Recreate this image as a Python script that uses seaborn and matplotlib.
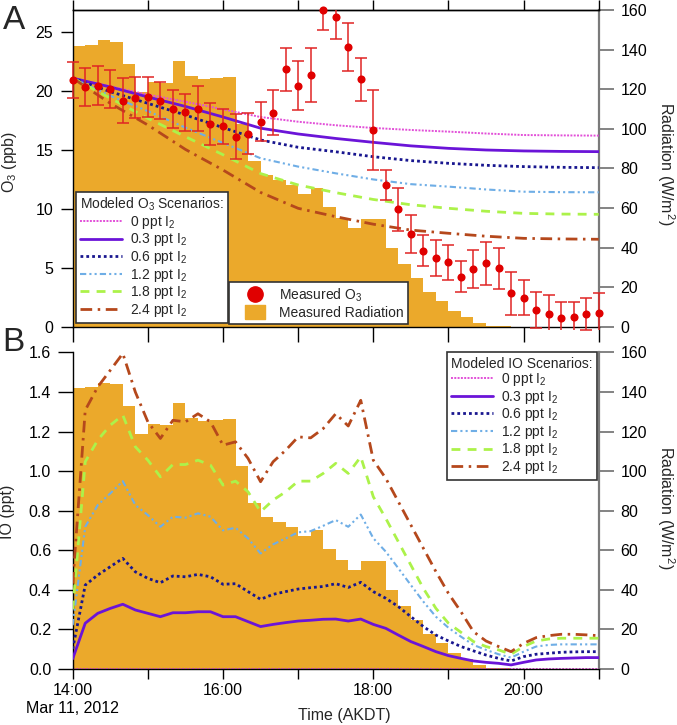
import numpy as np
import pandas as pd
import matplotlib
matplotlib.use("Agg")
import matplotlib.pyplot as plt
import seaborn as sns
from matplotlib.lines import Line2D
from matplotlib.transforms import Bbox, TransformedBbox

# ---------------- data ----------------
# 10-minute time stamps, 14:00 .. 21:00 (Mar 11, 2012, AKDT)
times_10 = pd.date_range("2012-03-11 14:00", "2012-03-11 21:00", freq="10min")
# 30-minute time stamps for the modeled O3 curves
times_30 = pd.date_range("2012-03-11 14:00", "2012-03-11 21:00", freq="30min")

# measured radiation (W/m2), 10-min bins starting 14:00 .. 20:50
radiation = [141.9, 142.6, 144.8, 143.9, 132.9, 118.6,
             123.6, 123.3, 134.6, 127.0, 125.3, 125.8,
             126.2, 102.5, 84.0, 76.8, 74.1, 71.7,
             67.3, 70.0, 60.6, 55.1, 50.1, 54.3,
             54.3, 39.9, 31.5, 24.7, 17.6, 12.9,
             7.8, 4.8, 1.9, 0.5, 0.2, 0.0,
             0.0, 0.0, 0.0, 0.0, 0.0, 0.0]

# measured O3 (ppb) and its uncertainty, 14:00 .. 21:00 every 10 min
o3_measured = [20.95, 20.33, 20.47, 20.16, 19.20, 19.45,
               19.53, 19.20, 18.49, 18.20, 18.52, 17.19,
               17.00, 16.14, 16.39, 17.41, 18.18, 21.86,
               20.47, 21.38, 26.90, 26.27, 23.78, 21.00,
               16.70, 12.03, 9.96, 7.87, 6.45, 5.80,
               5.46, 4.25, 4.87, 5.38, 4.95, 2.83,
               2.46, 1.42, 1.08, 0.71, 0.79, 1.05,
               1.19]
o3_error = [1.56, 1.63, 1.63, 1.63, 1.91, 1.74,
            1.70, 1.54, 1.60, 1.58, 1.90, 1.77,
            1.47, 1.90, 1.74, 1.67, 1.88, 1.83,
            2.09, 2.32, 1.70, 1.84, 2.04, 1.80,
            3.37, 1.29, 1.80, 1.63, 1.30, 1.53,
            1.49, 1.34, 1.60, 1.80, 1.74, 1.84,
            1.50, 1.54, 1.58, 1.42, 1.33, 1.37,
            1.67]

scenarios = ["0 ppt", "0.3 ppt", "0.6 ppt", "1.2 ppt", "1.8 ppt", "2.4 ppt"]

# modeled O3 (ppb), every 30 min 14:00 .. 21:00
o3_0p0 = [21.1, 20.4, 19.7, 19.1, 18.45, 17.8, 17.4, 17.1, 16.87, 16.7, 16.56, 16.4, 16.27, 16.24, 16.22]
o3_0p3 = [21.1, 20.35, 19.5, 18.7, 17.8, 16.85, 16.36, 15.98, 15.65, 15.35, 15.14, 15.0, 14.92, 14.88, 14.86]
o3_0p6 = [21.1, 19.95, 18.96, 17.97, 16.9, 15.85, 15.23, 14.85, 14.43, 14.1, 13.87, 13.7, 13.59, 13.53, 13.5]
o3_1p2 = [21.1, 19.6, 18.3, 16.9, 15.6, 14.3, 13.59, 13.02, 12.5, 12.1, 11.89, 11.65, 11.46, 11.42, 11.41]
o3_1p8 = [21.1, 19.4, 17.69, 16.13, 14.6, 13.0, 12.03, 11.38, 10.8, 10.35, 10.05, 9.8, 9.62, 9.56, 9.54]
o3_2p4 = [21.1, 18.96, 17.12, 15.05, 13.3, 11.4, 10.05, 9.34, 8.7, 8.2, 7.93, 7.68, 7.5, 7.45, 7.42]

# modeled IO (ppt), every 10 min 14:00 .. 21:00
io_0p0 = [0.0] * 43
io_0p3 = [0.05, 0.23, 0.28, 0.305, 0.326, 0.297,
          0.28, 0.263, 0.283, 0.283, 0.288, 0.288,
          0.263, 0.263, 0.238, 0.213, 0.224, 0.233,
          0.241, 0.245, 0.25, 0.251, 0.241, 0.251,
          0.224, 0.204, 0.17, 0.137, 0.112, 0.086,
          0.066, 0.052, 0.039, 0.032, 0.027, 0.019,
          0.032, 0.044, 0.049, 0.052, 0.054, 0.056,
          0.056]
io_0p6 = [0.10, 0.423, 0.474, 0.516, 0.558, 0.49,
          0.457, 0.435, 0.469, 0.465, 0.477, 0.465,
          0.427, 0.43, 0.39, 0.351, 0.376, 0.39,
          0.403, 0.41, 0.416, 0.43, 0.411, 0.437,
          0.39, 0.356, 0.314, 0.263, 0.213, 0.17,
          0.14, 0.112, 0.09, 0.069, 0.052, 0.039,
          0.061, 0.073, 0.078, 0.083, 0.085, 0.086,
          0.086]
io_1p2 = [0.22, 0.718, 0.828, 0.887, 0.949, 0.828,
          0.777, 0.718, 0.769, 0.764, 0.786, 0.769,
          0.70, 0.713, 0.659, 0.583, 0.629, 0.659,
          0.69, 0.696, 0.723, 0.752, 0.718, 0.78,
          0.66, 0.592, 0.508, 0.423, 0.339, 0.263,
          0.207, 0.162, 0.12, 0.095, 0.073, 0.056,
          0.086, 0.112, 0.12, 0.123, 0.123, 0.123,
          0.123]
io_1p8 = [0.30, 1.047, 1.157, 1.232, 1.283, 1.123,
          1.055, 0.971, 1.033, 1.033, 1.055, 1.03,
          0.929, 0.949, 0.895, 0.794, 0.853, 0.895,
          0.949, 0.949, 0.988, 1.039, 0.988, 1.072,
          0.87, 0.76, 0.642, 0.524, 0.406, 0.305,
          0.23, 0.184, 0.137, 0.112, 0.095, 0.073,
          0.112, 0.14, 0.15, 0.154, 0.154, 0.154,
          0.154]
io_2p4 = [0.43, 1.308, 1.426, 1.51, 1.595, 1.40,
          1.249, 1.165, 1.257, 1.249, 1.29, 1.249,
          1.131, 1.148, 1.064, 0.946, 1.047, 1.105,
          1.173, 1.168, 1.215, 1.29, 1.228, 1.358,
          1.055, 0.963, 0.845, 0.727, 0.609, 0.491,
          0.381, 0.288, 0.187, 0.14, 0.112, 0.086,
          0.128, 0.157, 0.167, 0.174, 0.174, 0.171,
          0.167]

x_tick_labels = ["14:00\nMar 11, 2012", "", "16:00", "", "18:00", "", "20:00", ""]

# ---------------- styles ----------------
ORANGE = "#EBA92B"
RED = "#E00000"
RED_EB = "#E02424"
colors = ["#E24FD8", "#6B14D8", "#18168F", "#6FAEE6", "#ACF24A", "#B5481C"]
widths = [1.4, 2.0, 2.0, 1.5, 2.0, 2.0]
styles = [(0, (1, 0.7)), "-", (0, (1, 1.1)), (0, (3, 1.5, 1, 1.5, 1, 1.5)),
          (0, (3.2, 2.6)), (0, (4.2, 2.0, 0.9, 2.0))]
TICK_FS = 11.5
LABEL_FS = 11.5
LEG_FS = 10

sns.set_theme(style="ticks")
plt.rcParams["font.family"] = ["Liberation Sans", "DejaVu Sans"]
plt.rcParams["mathtext.default"] = "regular"
plt.rcParams["axes.linewidth"] = 1.0
plt.rcParams["axes.edgecolor"] = "black"
plt.rcParams["xtick.color"] = "black"
plt.rcParams["ytick.color"] = "black"

hours_10 = np.asarray(times_10.hour + times_10.minute / 60.0, dtype=float)
hours_30 = np.asarray(times_30.hour + times_30.minute / 60.0, dtype=float)
rad_df = pd.DataFrame({"t": (hours_10[:-1] + hours_10[1:]) / 2,
                       "rad": radiation})

fig = plt.figure(figsize=(6.77, 7.25), dpi=100)

o3_models = [o3_0p0, o3_0p3, o3_0p6, o3_1p2, o3_1p8, o3_2p4]
io_models = [io_0p0, io_0p3, io_0p6, io_1p2, io_1p8, io_2p4]
i2_labels = [f"{s} I$_2$" for s in scenarios]


def draw_radiation(axr):
    sns.histplot(data=rad_df, x="t", weights="rad", binwidth=1 / 6,
                 binrange=(14, 21), element="step", fill=True, color=ORANGE,
                 alpha=1, linewidth=0, ax=axr)


def setup_right(axr, label, ycenter):
    axr.set_xlim(14, 21)
    axr.set_ylim(0, 160)
    axr.set_yticks(range(0, 161, 20))
    axr.tick_params(axis="y", length=10.5, width=1.2, color="#6e6e6e",
                    pad=5, labelsize=TICK_FS, labelcolor="black")
    for s in ["left", "top", "bottom"]:
        axr.spines[s].set_visible(False)
    axr.spines["right"].set_color("#7a7a7a")
    axr.spines["right"].set_linewidth(1.6)
    axr.set_ylabel(label, fontsize=LABEL_FS, rotation=270, va="bottom")
    axr.yaxis.set_label_coords(1.107, ycenter)
    axr.set_xlabel("")


def model_legend(ax, title, loc, anchor):
    handles = [Line2D([0], [0], color=c, lw=w, linestyle=ls)
               for c, w, ls in zip(colors, widths, styles)]
    leg = ax.legend(handles, i2_labels, title=title, loc=loc,
                    bbox_to_anchor=anchor, borderaxespad=0, fontsize=LEG_FS,
                    title_fontsize=LEG_FS, frameon=True, fancybox=False,
                    edgecolor="#333333", framealpha=1, handlelength=3.0,
                    handletextpad=0.6, labelspacing=0.04, borderpad=0.3,
                    alignment="left")
    leg.get_frame().set_linewidth(1.2)
    return leg


# ================= Panel A =================
axA = fig.add_axes([0.1074, 0.5494, 0.7770, 0.4364])
axAr = axA.twinx()
axA.set_zorder(axAr.get_zorder() + 1)
axA.patch.set_visible(False)

draw_radiation(axAr)

for vals, c, w, ls in zip(o3_models, colors, widths, styles):
    sns.lineplot(x=hours_30, y=vals, color=c, linewidth=w, linestyle=ls,
                 ax=axA, legend=False, zorder=3)

eb = axA.errorbar(hours_10, o3_measured, yerr=o3_error, fmt="none",
                  ecolor=RED_EB, elinewidth=1.1, capsize=4.5, capthick=1.1,
                  zorder=4)
clipbb = TransformedBbox(Bbox([[-0.05, -0.01], [1.05, 1.0]]), axA.transAxes)
for art in list(eb[1]) + list(eb[2]):
    art.set_clip_path(None)
    art.set_clip_box(clipbb)

sns.scatterplot(x=hours_10, y=o3_measured, color=RED, s=34, edgecolor=RED,
                linewidth=0, ax=axA, zorder=5, clip_on=False, legend=False)

axA.set_xlim(14, 21)
axA.set_ylim(0, 26.86)
axA.set_yticks([0, 5, 10, 15, 20, 25])
axA.set_xticks(range(14, 22))
axA.tick_params(axis="x", labelbottom=False, length=11, width=1, direction="out")
axA.tick_params(axis="y", length=9, width=1, pad=5, labelsize=TICK_FS)
axA.spines["right"].set_visible(False)
axA.spines["top"].set_visible(True)
secA = axA.secondary_xaxis("top")
secA.set_xticks(range(14, 22), labels=[""] * 8)
secA.tick_params(length=7, width=1)
axA.set_ylabel("O$_3$ (ppb)", fontsize=LABEL_FS)
axA.yaxis.set_label_coords(-0.103, 0.52)
axA.set_xlabel("")
setup_right(axAr, "Radiation (W/m$^2$)", 0.516)

legA = model_legend(axA, "Modeled O$_3$ Scenarios:", "lower left", (0.006, 0.012))
axA.add_artist(legA)
rect = [(-1.5, -1.0), (1.5, -1.0), (1.5, 1.0), (-1.5, 1.0), (-1.5, -1.0)]
meas_handles = [Line2D([0], [0], marker="o", ms=11, color=RED, ls="none"),
                Line2D([0], [0], marker=rect, ms=14.5, color=ORANGE, ls="none")]
legA2 = axA.legend(meas_handles, ["Measured O$_3$", "Measured Radiation"],
                   loc="lower left", bbox_to_anchor=(0.297, 0.009),
                   borderaxespad=0, fontsize=LEG_FS, frameon=True,
                   fancybox=False, edgecolor="#333333", framealpha=1,
                   handlelength=3.2, handletextpad=0.1, labelspacing=0.15,
                   borderpad=0.3)
legA2.get_frame().set_linewidth(1.2)

# ================= Panel B =================
axB = fig.add_axes([0.1074, 0.0777, 0.7770, 0.4361])
axBr = axB.twinx()
axB.set_zorder(axBr.get_zorder() + 1)
axB.patch.set_visible(False)

draw_radiation(axBr)

for i, (vals, c, w, ls) in enumerate(zip(io_models, colors, widths, styles)):
    sns.lineplot(x=hours_10, y=vals, color=c, linewidth=w, linestyle=ls,
                 ax=axB, legend=False, zorder=2 if i == 0 else 3)

axB.set_xlim(14, 21)
axB.set_ylim(0, 1.6)
axB.set_yticks(np.round(np.arange(0, 1.61, 0.2), 1))
axB.yaxis.set_major_formatter(matplotlib.ticker.FormatStrFormatter("%.1f"))
axB.set_xticks(range(14, 22), labels=x_tick_labels)
axB.tick_params(axis="x", length=7, width=1, pad=3.5, labelsize=TICK_FS)
axB.tick_params(axis="y", length=10.5, width=1, pad=5, labelsize=TICK_FS)
axB.spines["right"].set_visible(False)
axB.spines["top"].set_visible(False)
axB.set_ylabel("IO (ppt)", fontsize=LABEL_FS)
axB.yaxis.set_label_coords(-0.11, 0.495)
axB.set_xlabel("Time (AKDT)", fontsize=LABEL_FS)
axB.xaxis.set_label_coords(0.517, -0.124)
setup_right(axBr, "Radiation (W/m$^2$)", 0.508)

legB = model_legend(axB, "Modeled IO Scenarios:", "upper right", (0.997, 1.0))
legB.set_zorder(10)

fig.text(0.004, 0.993, "A", fontsize=24, va="top", ha="left")
fig.text(0.004, 0.549, "B", fontsize=24, va="top", ha="left")

fig.savefig("out.png", dpi=100)
